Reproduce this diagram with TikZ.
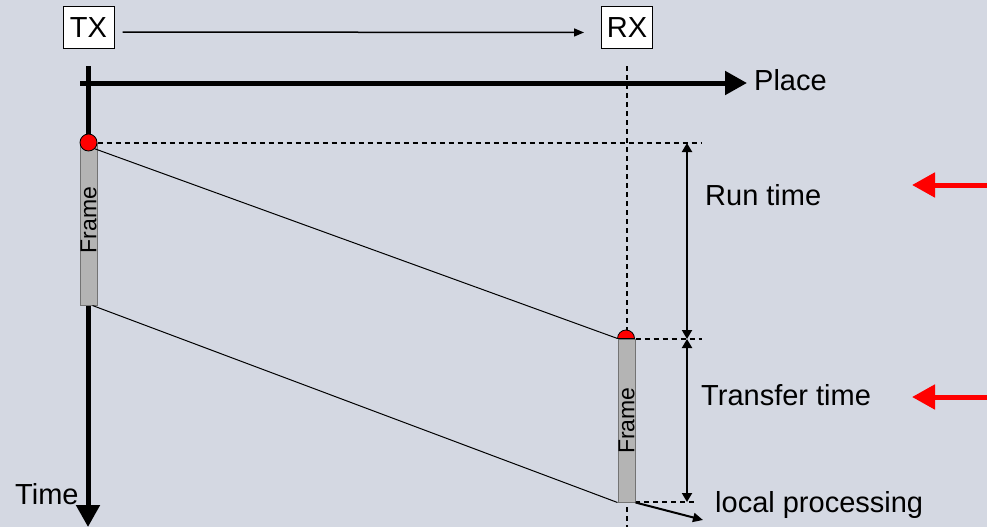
\documentclass[tikz,border=0pt]{standalone}
\usepackage{fontspec}
\setmainfont{Liberation Sans}
\usetikzlibrary{positioning,arrows.meta}
\definecolor{bg}{RGB}{212,216,226}
\definecolor{framegrey}{RGB}{180,180,180}

\begin{document}
\begin{tikzpicture}[x=1pt,y=-1pt,
		big/.style={font=\fontsize{29}{33}\selectfont, inner sep=0pt},
		station/.style={draw, fill=white, line width=1pt, big, minimum width=51pt, minimum height=42pt},
		framebox/.style={draw=black!55, line width=1pt, fill=framegrey, minimum width=17pt, inner sep=0pt},
		framelabel/.style={rotate=90, font=\fontsize{23}{26}\selectfont, inner sep=0pt},
		axis/.style={line width=5pt, -{Triangle[length=22pt,width=23pt]}},
		guide/.style={line width=1.5pt, dash pattern=on 5pt off 4pt},
		dim/.style={line width=2pt, {Triangle[length=9pt,width=10pt]}-{Triangle[length=9pt,width=10pt]}},
		hint/.style={red, line width=5pt, -{Triangle[length=23pt,width=24pt]}}]
			\fill[bg] (0,0) rectangle (987,527);
			\useasboundingbox (0,0) rectangle (987,527);
			\node (tx) [station] at (88.5,27.5) {TX};
			\node (rx) [station] at (627,28) {RX};
			\draw[line width=1.5pt, -{Triangle[length=10pt,width=8pt]}, shorten <=8pt, shorten >=17pt]
			([yshift=-4.5pt]tx.east) -- ([yshift=-4.5pt]rx.west);
			% axes
			\coordinate (timetop) at (88,66);
			\coordinate (timeend) at (88,527);
			\coordinate (placestart) at (80,83);
			\coordinate (placeend) at (747,83);
			\draw[guide, line width=2pt] (627,66) -- (627,527);
			\draw[axis] (timetop) -- (timeend);
			\draw[axis] (placestart) -- (placeend);
			\node (place) [big, right=7pt of placeend, yshift=3pt] {Place};
			\node (time) [big, anchor=west] at (15,494) {Time};
			% time marks
			\coordinate (runtop) at (687,143);
			\coordinate (runend) at (687,339);
			\coordinate (transferend) at (687,502);
			\draw[guide] (88.5,143) -- (702,143);
			\draw[guide] (626.5,339) -- (702,339);
			\draw[guide] (635,502) -- (695,502);
			\draw[dim] (runtop) -- (runend);
			\draw[dim] (runend) -- (transferend);
			% frames
			\node (txframe) [framebox, minimum height=162pt] at (88.5,224) {};
			\node (rxframe) [framebox, minimum height=163pt] at (626.5,420.5) {};
			\node [framelabel] at ([yshift=4pt]txframe.center) {Frame};
			\node [framelabel] at (rxframe.center) {Frame};
			\node (txdot) [circle, draw, line width=0.8pt, fill=red, minimum size=17pt, inner sep=0pt] at (txframe.north) {};
			\draw[fill=red, line width=0.8pt] (rxframe.north west) arc[start angle=180, end angle=0, radius=8.5pt] -- cycle;
			% propagation
			\draw[line width=1pt] (txdot.south east) -- (rxframe.north west);
			\draw[line width=1pt] ([xshift=4pt]txframe.south) -- (rxframe.south west);
			\node (run) [big, anchor=west] at (705,195) {Run time};
			\node (transfer) [big, anchor=west] at (701,395) {Transfer time};
			\coordinate (localend) at (703,520);
			\draw[line width=2pt, -{Triangle[length=10pt,width=9pt]}] (rxframe.south east) -- (localend);
			\node (local) [big, anchor=west] at (715,505) {local processing};
			% red hints
			\coordinate (runhint) at (990,185);
			\coordinate (transferhint) at (990,397);
			\draw[hint] (runhint) -- (912,185);
			\draw[hint] (transferhint) -- (912,397);
		\end{tikzpicture}
\end{document}
